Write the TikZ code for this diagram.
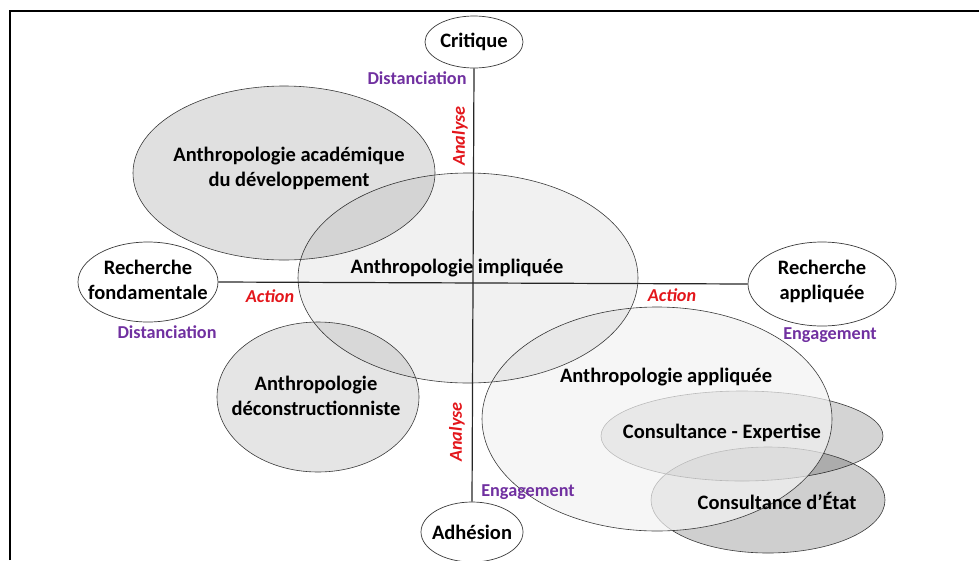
\documentclass[tikz,border=0pt]{standalone}
\usepackage{fontspec}
\setmainfont{Carlito}
\usetikzlibrary{shapes.geometric}
\definecolor{purp}{HTML}{7030A0}
\definecolor{redlab}{HTML}{E3161B}
\definecolor{edge}{HTML}{3A3A3A}
\tikzset{
  pole/.style={draw=edge, line width=0.7pt, fill=white, ellipse, inner sep=0pt},
  zone/.style={draw=edge, line width=0.6pt, ellipse, inner sep=0pt},
  txt/.style={font=\fontsize{20.5}{25}\selectfont\bfseries, align=center, inner sep=0pt},
  axislab/.style={font=\fontsize{18.2}{20}\selectfont\bfseries, text=purp, inner sep=0pt},
  actlab/.style={font=\fontsize{18.2}{20}\selectfont\bfseries\itshape, text=redlab, inner sep=0pt},
  axis/.style={draw=black!85, line width=1.2pt}
}
\begin{document}
\begin{tikzpicture}[x=1pt,y=-1pt]
\useasboundingbox (0,0) rectangle (979,560);
\draw[line width=2pt] (10,560) -- (10,11) -- (979,11);
% zones
\node[zone, fill=black, fill opacity=0.17, minimum width=282pt, minimum height=90pt] (expe) at (742,436) {};
\node[zone, fill=black, fill opacity=0.19, minimum width=234pt, minimum height=106pt] (etat) at (768,500) {};
\node[zone, fill=black!5, fill opacity=0.7, minimum width=350pt, minimum height=224pt] (appl) at (657,419) {};
\node[zone, fill=black, fill opacity=0.055, minimum width=340pt, minimum height=210pt] (impl) at (468,278) {};
\node[zone, fill=black, fill opacity=0.12, minimum width=302pt, minimum height=174pt] (acad) at (284,173) {};
\node[zone, fill=black, fill opacity=0.1, minimum width=202pt, minimum height=150pt] (deco) at (318,397) {};
% poles
\node[pole, minimum width=98pt, minimum height=52pt] (crit) at (474,42) {};
\node[pole, minimum width=102pt, minimum height=60pt] (adh) at (472,532) {};
\node[pole, minimum width=140pt, minimum height=80pt] (rf) at (148,282) {};
\node[pole, minimum width=148pt, minimum height=84pt] (ra) at (822,284) {};
% axes
\draw[axis] (crit.south) -- (adh.north);
\draw[axis] (rf.east) -- (ra.west);
% texts
\node[txt] (tcrit) at (crit.center) {Critique};
\node[txt] (tadh) at (adh.center) {Adhésion};
\node[txt] (trf) at (148,280) {Recherche\\fondamentale};
\node[txt] (tra) at (822,281) {Recherche\\appliquée};
\node[txt] (tacad) at (289,168) {Anthropologie académique\\du développement};
\node[txt] (timpl) at (457,268) {Anthropologie impliquée};
\node[txt] (tdeco) at (316,396) {Anthropologie\\déconstructionniste};
\node[txt] (tappl) at (666,377) {Anthropologie appliquée};
\node[txt] (texpe) at (722,433) {Consultance - Expertise};
\node[txt] (tetat) at (777,501) {Consultance d’État};
% axis labels
\node[axislab] (d1) at (417,78) {Distanciation};
\node[axislab] (d2) at (167,332) {Distanciation};
\node[axislab] (e1) at (528,492) {Engagement};
\node[axislab] (e2) at (830,335) {Engagement};
\node[actlab] (a1) at (270,296) {Action};
\node[actlab] (a2) at (672,295) {Action};
\node[actlab, rotate=90] (n1) at (460,136) {Analyse};
\node[actlab, rotate=90] (n2) at (457,432) {Analyse};
\end{tikzpicture}
\end{document}
